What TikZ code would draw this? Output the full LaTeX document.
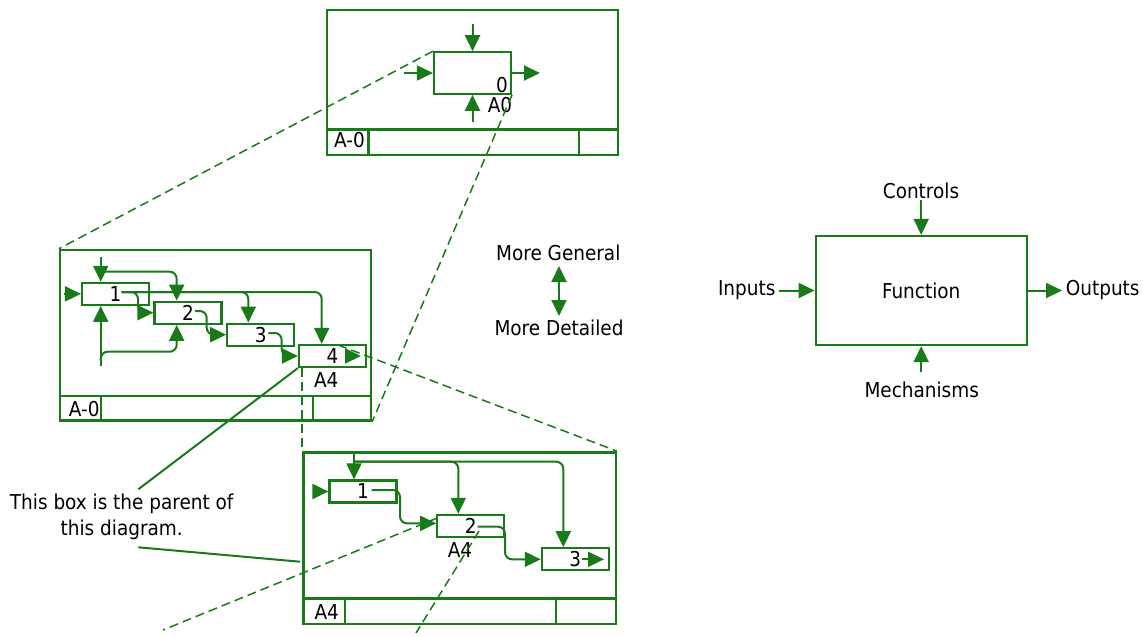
\documentclass[tikz,border=0pt]{standalone}
\usepackage{fontspec}
\setmainfont{DejaVu Sans Condensed}
\usetikzlibrary{arrows.meta}
\definecolor{idef}{RGB}{24,122,24}
\newcommand{\lblfont}{\fontsize{20.5}{25.7}\selectfont}
\begin{document}
\begin{tikzpicture}[x=1pt,y=-1pt,
  txt/.style={inner sep=0pt,font=\lblfont,text=black},
  framebox/.style={draw=idef,line width=2.4pt,inner sep=0pt},
  actbox/.style={draw=idef,line width=2.2pt,inner sep=0pt,minimum width=67pt,minimum height=22pt,font=\lblfont,text=black},
  conn/.style={draw=idef,line width=2pt,rounded corners=7pt,-{Triangle[length=16pt,width=15pt]}},
  plainline/.style={draw=idef,line width=2pt},
  barline/.style={draw=idef,line width=2.4pt},
  dashl/.style={draw=idef,line width=1.5pt,dash pattern=on 9pt off 5pt}
]
\path[use as bounding box] (0,0) rectangle (1143,637);

% ---------------- top diagram (A-0) ----------------
\node[framebox,minimum width=291pt,minimum height=145pt] (T) at (472.5,82.5) {};
\draw[barline] (327,129.5) -- (618,129.5);
\draw[barline] (368.5,129.5) -- (368.5,155);
\draw[barline] (579,129.5) -- (579,155);
\node[txt] (tA) at (349.5,140) {A-0};
\node[draw=idef,line width=2.2pt,inner sep=0pt,minimum width=77pt,minimum height=41.4pt] (b0) at (472.5,73) {};
\node[txt] (l0) at (502,85) {0};
\node[txt] (lA0) at (500,105) {A0};
\coordinate (t0c) at (472.5,24);
\coordinate (t0m) at (472.5,122);
\coordinate (t0i) at (404,73);
\coordinate (t0o) at (540,73);
\draw[conn] (t0c) -- (b0.north);
\draw[conn] (t0m) -- (b0.south);
\draw[conn] (t0i) -- (b0.west);
\draw[conn] (b0.east) -- (t0o);

% ---------------- middle diagram (A0) ----------------
\node[framebox,minimum width=311pt,minimum height=170.5pt] (M) at (215.5,335.25) {};
\draw[barline] (60,395.7) -- (371,395.7);
\draw[barline] (101,395.7) -- (101,420.5);
\draw[barline] (312.7,395.7) -- (312.7,420.5);
\node[txt] (mA) at (84.2,409) {A-0};
\node[actbox] (b1) at (115.5,293.85) {1};
\node[actbox] (b2) at (188,312.7) {2};
\node[actbox] (b3) at (260.8,334.7) {3};
\node[actbox] (b4) at (332.5,356) {4};
\node[txt] (lA4) at (326.3,380) {A4};

\coordinate (mc) at (100.7,257.3);
\draw[conn] (mc) -- (mc |- b1.north);
\coordinate (mcb) at (100.7,271.7);
\coordinate (mcx) at (176.7,271.7);
\draw[conn] (mcb) -- (mcx) -- (mcx |- b2.north);
\coordinate (mi) at (64,293.85);
\draw[conn] (mi) -- (b1.west);
\coordinate (o1) at (121.7,292);
\coordinate (o1a) at (248.3,292);
\coordinate (o1b) at (321.7,292);
\coordinate (o1c) at (138,292);
\draw[conn] (o1) -- (o1a) -- (o1a |- b3.north);
\draw[conn] (o1) -- (o1b) -- (o1b |- b4.north);
\draw[conn] (o1) -- (o1c) |- (b2.west);
\coordinate (o2) at (195,311);
\coordinate (o2c) at (206.7,311);
\draw[conn] (o2) -- (o2c) |- (b3.west);
\coordinate (o3) at (268.3,333);
\coordinate (o3c) at (281.7,333);
\draw[conn] (o3) -- (o3c) |- (b4.west);
\coordinate (o4) at (345,356);
\coordinate (o4e) at (361,356);
\draw[conn] (o4) -- (o4e);
\coordinate (mm) at (100.7,365.7);
\draw[conn] (mm) -- (mm |- b1.south);
\coordinate (mmb) at (100.7,360);
\coordinate (mmx) at (176.7,351.7);
\draw[conn] (mmb) |- (mmx) -- (mmx |- b2.south);

% ---------------- lower diagram (A4) ----------------
\node[framebox,minimum width=312.4pt,minimum height=171.7pt] (L) at (459.5,538.15) {};
\draw[barline] (303.3,598.3) -- (615.7,598.3);
\draw[barline] (345,598.3) -- (345,624);
\draw[barline] (556,598.3) -- (556,624);
\node[txt] (lA) at (326.7,611.7) {A4};
\node[actbox] (c1) at (363,491.5) {1};
\node[actbox] (c2) at (470.8,525.85) {2};
\node[actbox] (c3) at (575.35,559.3) {3};
\node[txt] (lcA4) at (460,550.5) {A4};

\coordinate (lc) at (354,453.5);
\draw[conn] (lc) -- (lc |- c1.north);
\coordinate (lcb) at (354,461.7);
\coordinate (lcx) at (458.3,461.7);
\coordinate (lcy) at (563.3,461.7);
\draw[conn] (lcb) -- (lcx) -- (lcx |- c2.north);
\draw[conn] (lcb) -- (lcy) -- (lcy |- c3.north);
\coordinate (li) at (313.3,491.5);
\draw[conn] (li) -- (c1.west);
\coordinate (p1) at (371.7,490);
\coordinate (p1c) at (400,490);
\draw[conn] (p1) -- (p1c) |- ([yshift=2.5pt]c2.west);
\coordinate (p2) at (477.7,526.7);
\coordinate (p2c) at (505,526.7);
\draw[conn] (p2) -- (p2c) |- (c3.west);
\coordinate (p3) at (581.7,559.3);
\coordinate (p3e) at (604,559.3);
\draw[conn] (p3) -- (p3e);

% ---------------- dashed decomposition lines ----------------
\draw[dashl] (b0.north west) -- (M.north west);
\draw[dashl] (b0.south east) -- (M.south east);
\coordinate (b4t) at (338,345);
\draw[dashl] (b4t) -- (L.north east);
\draw[dashl] (L.west |- b4.south) -- (L.north west);
\coordinate (c2a) at (437.3,518);
\coordinate (c2aend) at (163,630);
\draw[dashl] (c2a) -- (c2aend);
\coordinate (c2b) at (479,531);
\coordinate (c2bend) at (416,633);
\draw[dashl] (c2b) -- (c2bend);

% ---------------- note ----------------
\node[txt,align=center] (note) at (121.7,517) {This box is the parent of\\this diagram.};
\coordinate (n1) at (138.3,489.3);
\coordinate (n2) at (138.3,547.3);
\coordinate (n2e) at (300,561.7);
\draw[plainline] (b4.south west) -- (n1);
\draw[plainline] (n2) -- (n2e);

% ---------------- legend arrow ----------------
\node[txt] (gen) at (558.3,252.7) {More General};
\node[txt] (det) at (559,328.3) {More Detailed};
\coordinate (ga) at (559,266);
\coordinate (gb) at (559,316);
\draw[draw=idef,line width=2pt,{Triangle[length=16pt,width=15pt]}-{Triangle[length=16pt,width=15pt]}] (ga) -- (gb);

% ---------------- ICOM box ----------------
\node[draw=idef,line width=2.2pt,inner sep=0pt,minimum width=211pt,minimum height=109pt,font=\lblfont] (F) at (921.2,290.5) {Function};
\node[txt] (ctl) at (921,191) {Controls};
\node[txt] (mech) at (921.7,390) {Mechanisms};
\node[txt] (inp) at (746.7,290) {Inputs};
\node[txt] (outp) at (1102.7,290) {Outputs};
\coordinate (ctla) at (921.2,200);
\coordinate (mecha) at (921.2,372);
\coordinate (inpa) at (779.3,290.5);
\coordinate (outpa) at (1062,290.5);
\draw[conn] (ctla) -- (F.north);
\draw[conn] (mecha) -- (F.south);
\draw[conn] (inpa) -- (F.west);
\draw[conn] (F.east) -- (outpa);
\end{tikzpicture}
\end{document}
